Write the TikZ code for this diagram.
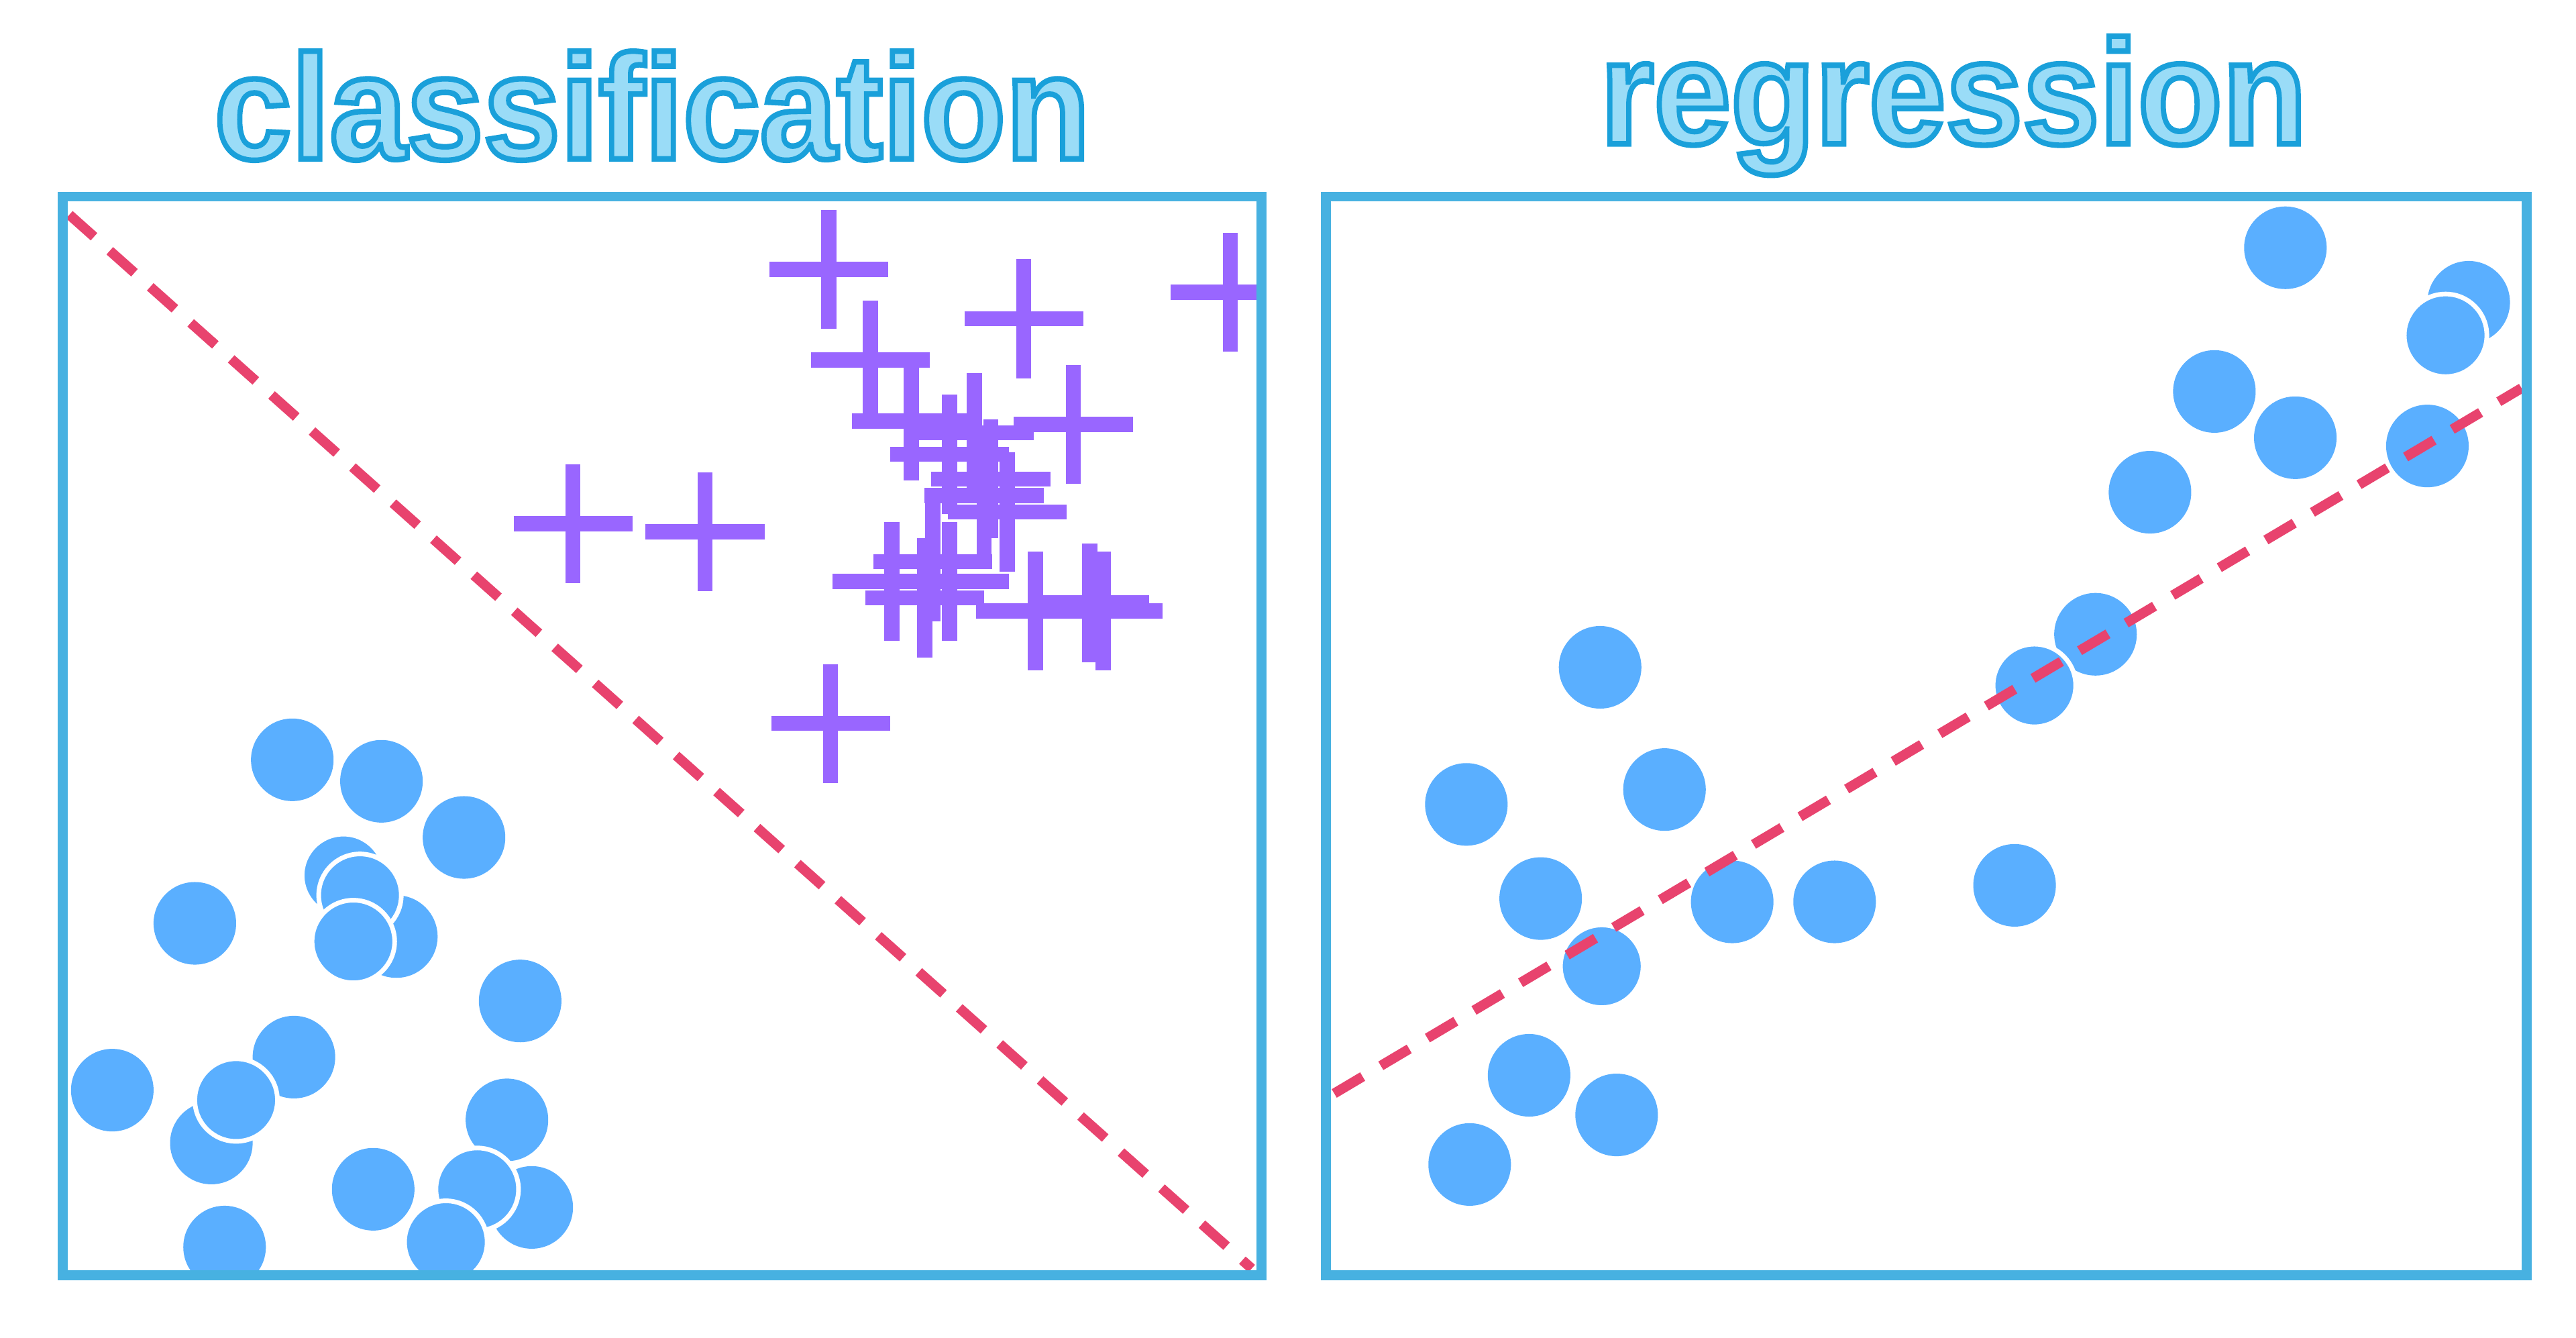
\documentclass[tikz,border=0pt]{standalone}
\usepackage{fontspec}
\setmainfont{Liberation Sans}
\definecolor{framebl}{HTML}{47B1E1}
\definecolor{titlebl}{HTML}{1AA0DA}
\definecolor{titlefill}{HTML}{9ADCF7}
\definecolor{dotbl}{HTML}{5AAFFF}
\definecolor{pluspu}{HTML}{9966FF}
\definecolor{linered}{HTML}{E8436E}
\newcommand{\outlined}[1]{\special{pdf:literal direct 2 Tr 2.4 w 0.102 0.627 0.855 RG}#1\special{pdf:literal direct 0 Tr}}
\begin{document}
\begin{tikzpicture}[x=0.025cm, y=-0.025cm,
    frame/.style={draw=framebl, line width=0.15cm},
    title/.style={font=\fontsize{64}{66}\bfseries\selectfont, text=titlefill, xscale=0.93, inner sep=0},
    dot/.style={fill=dotbl},
    dotw/.style={fill=dotbl, draw=white, line width=0.07cm},
    plus/.style={draw=pluspu, line width=0.23cm},
    split/.style={draw=linered, line width=0.15cm, dash pattern=on 0.5cm off 0.32cm}
]
    \useasboundingbox (0,0) rectangle (1560,810);

    % titles
    \node[title] (tclass) at (395,64) {\outlined{classification}};
    \node[title] (treg) at (1183,64) {\outlined{regression}};

    % classification panel
    \begin{scope}
    \clip (38,119) rectangle (764,772);
    \foreach \x/\y in {502/163, 620/193, 745/177, 527/218, 552/255, 590/262, 650/257,
        575/275, 600/290, 596/300, 610/310, 347/317, 427/322, 540/352, 565/340,
        575/352, 560/362, 627/370, 660/365, 668/370, 503/438}
        \draw[plus] (\x-36,\y) -- (\x+36,\y) (\x,\y-36) -- (\x,\y+36);
    \foreach \x/\y in {177/460, 231/473, 281/507, 240/567, 118/559, 315/606, 68/660,
        178/640, 128/692, 307/678, 226/720, 322/731, 136/755}
        \fill[dot] (\x,\y) circle (25);
    \foreach \x/\y in {208/530, 218/542, 214/570, 143/666, 289/720, 270/752}
        \filldraw[dotw] (\x,\y) circle (25);
    \draw[split] (42,130) -- (758,768);
    \end{scope}
    \draw[frame] (38,119) rectangle (764,772);

    % regression panel
    \begin{scope}
    \clip (803,119) rectangle (1530,772);
    \foreach \x/\y in {1384/150, 1495/183, 1341/237, 1390/265, 1470/270, 1302/298,
        1269/384, 969/404, 888/487, 1008/478, 933/544, 1049/546, 1111/546, 1220/536,
        926/651, 979/675, 890/705}
        \fill[dot] (\x,\y) circle (25);
    \foreach \x/\y in {1481/203, 1232/415, 970/585}
        \filldraw[dotw] (\x,\y) circle (25);
    \draw[split] (808,662) -- (1527,235);
    \end{scope}
    \draw[frame] (803,119) rectangle (1530,772);
\end{tikzpicture}
\end{document}
